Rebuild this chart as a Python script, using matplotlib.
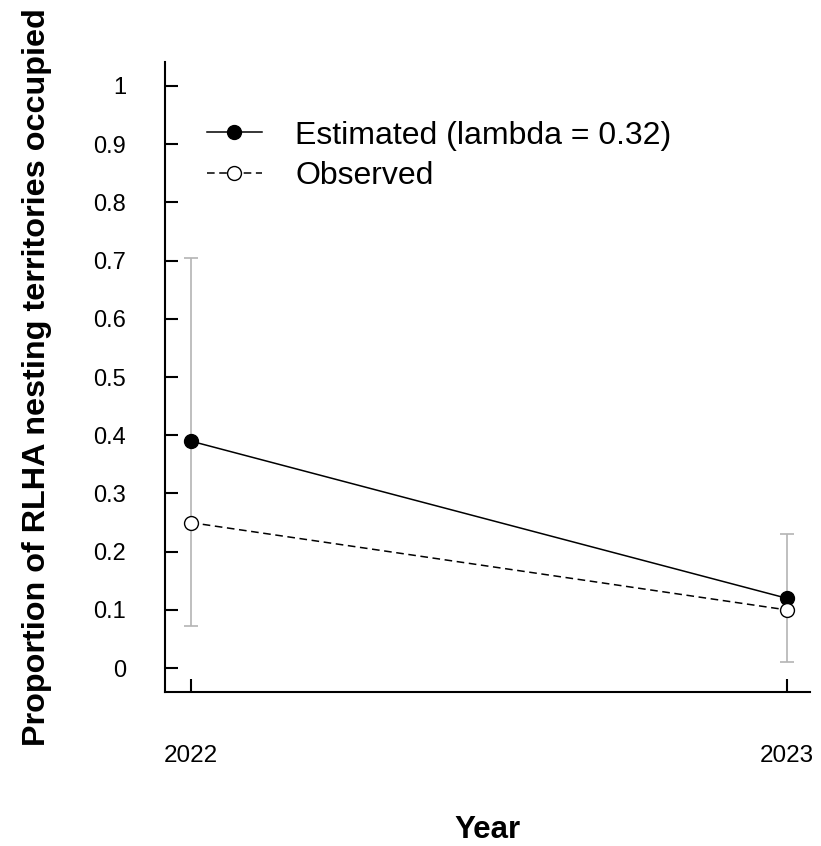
import matplotlib
matplotlib.use("Agg")
import matplotlib.pyplot as plt

plt.rcParams['font.family'] = ['Liberation Sans', 'DejaVu Sans']

years = [2022, 2023]
estimated = [0.39, 0.12]
observed = [0.25, 0.10]
ci_lower = [0.072, 0.010]
ci_upper = [0.705, 0.230]
y_ticks = [0, 0.1, 0.2, 0.3, 0.4, 0.5, 0.6, 0.7, 0.8, 0.9, 1]
y_tick_labels = ["0", "0.1", "0.2", "0.3", "0.4", "0.5", "0.6", "0.7", "0.8", "0.9", "1"]

fig = plt.figure(figsize=(8.21, 8.46), dpi=100)
ax = fig.add_axes([165 / 821, 1 - 692 / 846, 645 / 821, 630 / 846])

# confidence intervals of the estimate
for x, lo, hi in zip(years, ci_lower, ci_upper):
    ax.errorbar([x], [(lo + hi) / 2], yerr=[[(hi - lo) / 2], [(hi - lo) / 2]],
                fmt='none', ecolor='#b4b4b4', elinewidth=1.2, capsize=5, capthick=1.2,
                zorder=1)

ax.plot(years, estimated, color='black', lw=1.1, marker='o', ms=10,
        mfc='black', mec='black', label='Estimated (lambda = 0.32)', zorder=3)
ax.plot(years, observed, color='black', lw=1.1, ls=(0, (5, 3)), marker='o', ms=10,
        mfc='white', mec='black', label='Observed', zorder=3)

ax.set_xlim(2021.957, 2023.039)
ax.set_ylim(-0.041, 1.041)
ax.set_xticks(years)
ax.set_xticklabels([str(y) for y in years])
ax.set_yticks(y_ticks)
ax.set_yticklabels(y_tick_labels)

ax.spines['top'].set_visible(False)
ax.spines['right'].set_visible(False)
for s in ('left', 'bottom'):
    ax.spines[s].set_linewidth(1.5)

ax.tick_params(axis='y', direction='in', length=9.5, width=1.5, pad=28, labelsize=17)
ax.tick_params(axis='x', direction='in', length=9.5, width=1.5, pad=38, labelsize=17.5)

ax.set_xlabel('Year', fontsize=22.5, fontweight='bold')
ax.set_ylabel('Proportion of RLHA nesting territories occupied', fontsize=23.3,
              fontweight='bold')
ax.xaxis.set_label_coords(0.5, -0.196)
ax.yaxis.set_label_coords(-0.175, 0.5)

ax.legend(loc='upper left', bbox_to_anchor=(0.065, 0.907), frameon=False,
          fontsize=23, handlelength=1.72, handletextpad=1.05, labelspacing=0.32,
          borderpad=0, borderaxespad=0, markerscale=1.0)

fig.savefig('out.png', dpi=100)
